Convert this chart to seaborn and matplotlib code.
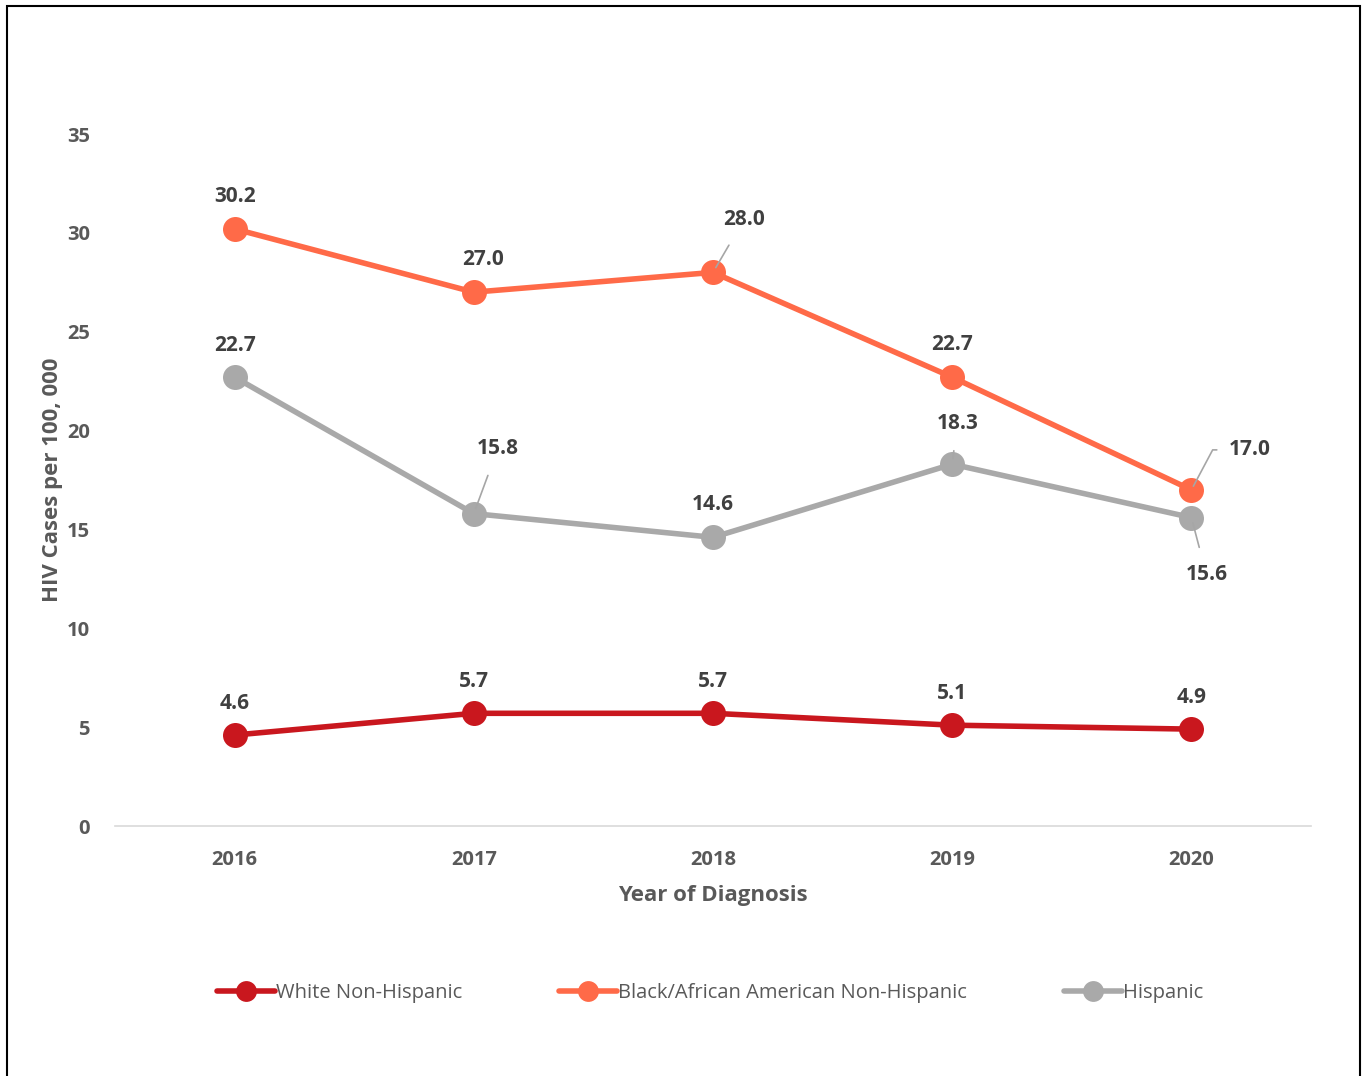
import matplotlib
matplotlib.use("Agg")
import matplotlib.pyplot as plt
import matplotlib.patches as mpatches
import seaborn as sns
import pandas as pd

years = ["2016", "2017", "2018", "2019", "2020"]
white = [4.6, 5.7, 5.7, 5.1, 4.9]
black = [30.2, 27.0, 28.0, 22.7, 17.0]
hispanic = [22.7, 15.8, 14.6, 18.3, 15.6]
series_names = ["White Non-Hispanic", "Black/African American Non-Hispanic", "Hispanic"]
colors = ["#C9171E", "#FF6A48", "#A9A9A9"]
y_ticks = [0, 5, 10, 15, 20, 25, 30, 35]

rows = []
for name, vals in zip(series_names, [white, black, hispanic]):
    for i, (yr, v) in enumerate(zip(years, vals)):
        rows.append({"pos": i, "Year": yr, "Rate": v, "Group": name})
df = pd.DataFrame(rows)

sns.set_theme(style="white")
plt.rcParams["font.family"] = ["Open Sans", "DejaVu Sans"]
text_col = "#595959"

fig = plt.figure(figsize=(13.64, 10.76), dpi=100)
ax = fig.add_axes([115 / 1364, 1 - 826 / 1076, (1311 - 115) / 1364, (826 - 134) / 1076])

sns.lineplot(data=df, x="pos", y="Rate", hue="Group", hue_order=series_names,
             palette=colors, marker="o", markersize=18, markeredgewidth=0,
             linewidth=4, ax=ax, legend=False)

ax.set_xlim(-0.5, 4.5)
ax.set_ylim(0, 35)
ax.set_xticks(range(len(years)))
ax.set_xticklabels(years)
ax.set_yticks(y_ticks)
for s in ["top", "right", "left"]:
    ax.spines[s].set_visible(False)
ax.spines["bottom"].set_color("#D9D9D9")
ax.spines["bottom"].set_linewidth(1.2)
ax.tick_params(axis="both", length=0, labelsize=14.5, colors=text_col)
ax.tick_params(axis="x", pad=17)
ax.tick_params(axis="y", pad=18)
for lab in ax.get_xticklabels() + ax.get_yticklabels():
    lab.set_fontweight("bold")
ax.set_xlabel("Year of Diagnosis", fontsize=16, fontweight="bold", color=text_col, labelpad=11)
ax.set_ylabel("HIV Cases per 100, 000", fontsize=16, fontweight="bold", color=text_col, labelpad=3)

PX = 0.72  # points per pixel at 100 dpi
# label offsets in pixels (dx, dy up) and the leader style, if any
offsets = {
    0: [(0, 32, None)] * 5,
    1: [(0, 32, None), (9, 33, None), (31, 53, "line"), (0, 33, None), (61, 40, "elbow")],
    2: [(0, 32, None), (24, 65, "line"), (0, 33, None), (5, 41, "line"), (15, -57, "line")],
}
for si, vals in enumerate([white, black, hispanic]):
    for i, v in enumerate(vals):
        dx, dy, kind = offsets[si][i]
        kw = dict(textcoords="offset points", fontsize=15, fontweight="bold",
                  color="#404040", ha="center", va="center")
        if kind == "line":
            kw["arrowprops"] = dict(arrowstyle="-", color="#A6A6A6", lw=1.2,
                                    shrinkA=10, shrinkB=4)
        elif kind == "elbow":
            kw["ha"] = "left"
            dx = dx - 24
            kw["arrowprops"] = dict(arrowstyle="-", color="#A6A6A6", lw=1.2,
                                    relpos=(0, 0.5), shrinkA=6, shrinkB=3,
                                    connectionstyle="angle,angleA=0,angleB=62,rad=0")
        ax.annotate(f"{v:.1f}", xy=(i, v), xytext=(dx * PX, dy * PX), **kw)

handles = [plt.Line2D([], [], color=c, lw=4, marker="o", markersize=15,
                      markeredgewidth=0) for c in colors]
leg = fig.legend(handles, series_names, loc="center", bbox_to_anchor=(710 / 1364, 1 - 993 / 1076),
                 ncol=3, frameon=False, fontsize=14.5, handlelength=2.9, handletextpad=0.05,
                 columnspacing=4.8)
for t in leg.get_texts():
    t.set_color(text_col)

border = mpatches.Rectangle((7 / 1364, -0.05), (1360 - 7) / 1364, 1.05 - 6 / 1076,
                            transform=fig.transFigure, fill=False, edgecolor="black",
                            linewidth=1.5, clip_on=False)
fig.patches.append(border)

fig.savefig("out.png", dpi=100)
